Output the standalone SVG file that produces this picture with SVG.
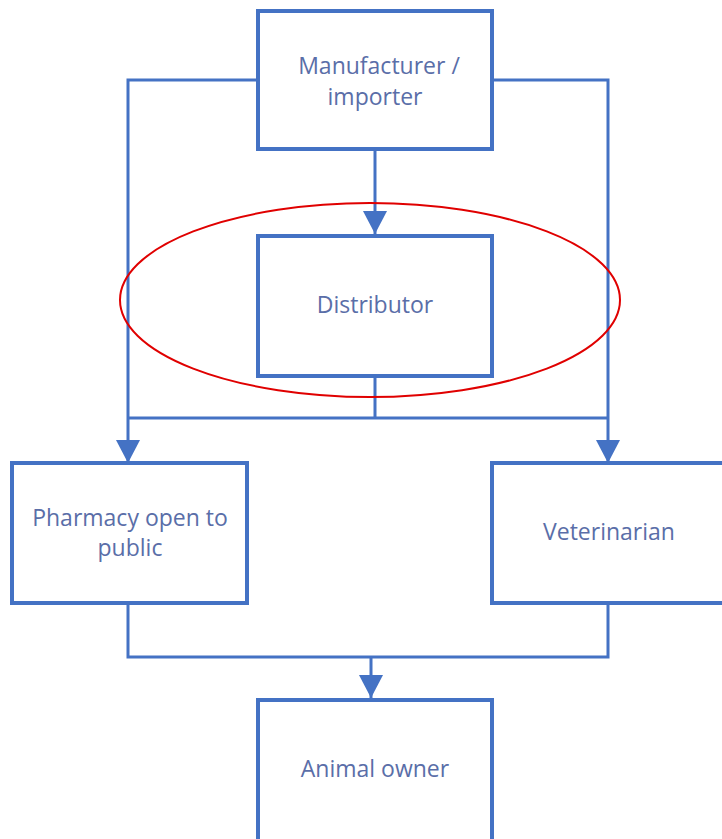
<svg xmlns="http://www.w3.org/2000/svg" width="722" height="839" viewBox="0 0 722 839">
<style>
.box{fill:#fff;stroke:#4472C4;stroke-width:4}
.lbl{font-family:"Open Sans","Noto Sans",sans-serif;font-size:23px;fill:#5a6ea8;text-anchor:middle}
.con{fill:none;stroke:#4472C4;stroke-width:3}
</style>
<rect width="722" height="839" fill="#fff"/>
<g id="connectors">
<path class="con" d="M258,80 H128 V463"/>
<path class="con" d="M492,80 H608 V463"/>
<path class="con" d="M375,149 V235"/>
<path class="con" d="M375,376 V418 M128,418 H608"/>
<path class="con" d="M128,603 V657 H608 V603 M371,657 V700"/>
<path d="M363,211 L387,211 L375,234 Z" fill="#4472C4"/>
<path d="M116,440 L140,440 L128,463 Z" fill="#4472C4"/>
<path d="M596,440 L620,440 L608,463 Z" fill="#4472C4"/>
<path d="M359,675 L383,675 L371,698 Z" fill="#4472C4"/>
</g>
<g id="manufacturer">
<rect class="box" x="258" y="11" width="234" height="138"/>
<text class="lbl" x="379" y="74">Manufacturer /</text>
<text class="lbl" x="375" y="105">importer</text>
</g>
<g id="distributor">
<rect class="box" x="258" y="236" width="234" height="140"/>
<text class="lbl" x="375" y="313">Distributor</text>
</g>
<g id="pharmacy">
<rect class="box" x="12" y="463" width="235" height="140"/>
<text class="lbl" x="130" y="526">Pharmacy open to</text>
<text class="lbl" x="130" y="556">public</text>
</g>
<g id="veterinarian">
<rect class="box" x="492" y="463" width="240" height="140"/>
<text class="lbl" x="609" y="540">Veterinarian</text>
</g>
<g id="animal-owner">
<rect class="box" x="258" y="700" width="234" height="150"/>
<text class="lbl" x="375" y="777">Animal owner</text>
</g>
<ellipse id="highlight" cx="370" cy="300" rx="250" ry="97" fill="none" stroke="#e00000" stroke-width="2"/>
</svg>
